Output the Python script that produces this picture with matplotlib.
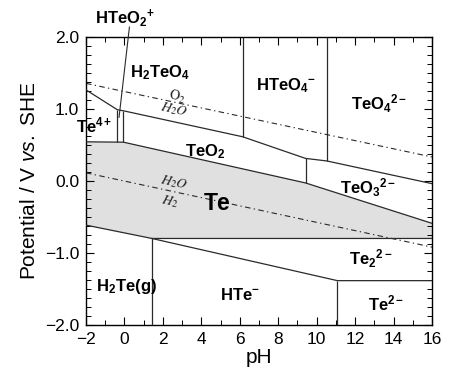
import matplotlib
matplotlib.use('Agg')
import matplotlib.pyplot as plt
from matplotlib.ticker import MultipleLocator, FixedLocator

plt.rcParams['font.family'] = ['Liberation Sans', 'DejaVu Sans']
plt.rcParams['mathtext.fontset'] = 'custom'
plt.rcParams['mathtext.rm'] = 'Liberation Sans'
plt.rcParams['mathtext.it'] = 'Liberation Sans:italic'
plt.rcParams['mathtext.bf'] = 'Liberation Sans:bold'

# boundaries (pH, E / V)
ox_ph = [-2, -0.37, -0.05, 6.15, 9.42, 10.52, 16]
ox_E = [1.26, 0.985, 0.97, 0.61, 0.31, 0.275, -0.04]

te_top_ph = [-2, -0.05, 9.42, 16]
te_top_E = [0.54, 0.535, -0.03, -0.59]
te_bot_ph = [-2, 1.43, 16]
te_bot_E = [-0.615, -0.80, -0.80]

hte_ph = [1.43, 11.08, 16]
hte_E = [-0.80, -1.385, -1.385]

# vertical boundaries: pH, lower E, upper E
v_ph = [-0.37, -0.05, 6.15, 10.52, 9.42, 1.43, 11.08]
v_lo = [0.54, 0.535, 0.61, 0.275, -0.03, -2.0, -2.0]
v_hi = [0.985, 0.97, 2.0, 2.0, 0.31, -0.80, -1.385]

# water stability lines
o2_ph = [-2, 16]
o2_E = [1.35, 0.33]
h2_ph = [-2, 16]
h2_E = [0.11, -0.92]

# species labels
labels = [r'$\mathbf{H_2TeO_4}$', r'$\mathbf{HTeO_4{}^{-}}$', r'$\mathbf{TeO_4{}^{2-}}$',
          r'$\mathbf{Te^{4+}}$', r'$\mathbf{TeO_2}$', r'$\mathbf{TeO_3{}^{2-}}$',
          r'$\mathbf{Te_2{}^{2-}}$', r'$\mathbf{HTe^{-}}$', r'$\mathbf{Te^{2-}}$',
          r'$\mathbf{H_2Te(g)}$']
lab_x = [1.86, 8.38, 13.23, -1.58, 4.2, 12.66, 12.81, 6.03, 13.6, 0.09]
lab_y = [1.50, 1.32, 1.07, 0.77, 0.40, -0.10, -1.08, -1.58, -1.70, -1.46]

water_labels = [r'$\mathrm{O_2}$', r'$\mathit{H_2O}$', r'$\mathit{H_2O}$', r'$\mathit{H_2}$']
water_x = [2.73, 2.55, 2.55, 2.38]
water_y = [1.16, 0.98, -0.02, -0.29]

lc = '#2a2a2a'

fig = plt.figure(figsize=(4.49, 3.76), dpi=100)
ax = fig.add_axes([0.1915, 0.1356, 0.7706, 0.7673])

# Te stability region
ax.fill(te_top_ph + te_bot_ph[::-1], te_top_E + te_bot_E[::-1],
        color='#e0e0e0', lw=0, zorder=1)

ax.plot(ox_ph, ox_E, color=lc, lw=0.9, zorder=3)
ax.plot(te_top_ph, te_top_E, color=lc, lw=0.9, zorder=3)
ax.plot(te_bot_ph, te_bot_E, color=lc, lw=0.9, zorder=3)
ax.plot(hte_ph, hte_E, color=lc, lw=0.9, zorder=3)
ax.vlines(v_ph, v_lo, v_hi, color=lc, lw=0.9, zorder=3)

ax.plot(o2_ph, o2_E, color=lc, lw=0.8, dashes=(5, 3, 1.2, 3), zorder=2)
ax.plot(h2_ph, h2_E, color=lc, lw=0.8, dashes=(5, 3, 1.2, 3), zorder=2)

# leader line for HTeO2+
ax.plot([0.26, -0.28], [2.13, 0.88], color=lc, lw=0.8, clip_on=False, zorder=3)
ax.text(0.03, 2.25, r'$\mathbf{HTeO_2{}^{+}}$', fontsize=12, ha='center', va='center')

for t, x, y in zip(labels, lab_x, lab_y):
    ax.text(x, y, t, fontsize=12, ha='center', va='center', zorder=4)
ax.text(4.82, -0.32, r'$\mathbf{Te}$', fontsize=16.5, ha='center', va='center', zorder=4)

for t, x, y in zip(water_labels, water_x, water_y):
    ax.text(x, y, t, fontsize=10, ha='center', va='center', rotation=-12,
            math_fontfamily='stix', color='#222222', zorder=4)

ax.set_xlim(-2, 16)
ax.set_ylim(-2, 2)
ax.xaxis.set_major_locator(MultipleLocator(2))
ax.xaxis.set_minor_locator(MultipleLocator(1))
ax.yaxis.set_major_locator(FixedLocator([-2, -1, 0, 1, 2]))
ax.yaxis.set_minor_locator(MultipleLocator(0.125))
ax.set_yticklabels(['\u22122.0', '\u22121.0', '0.0', '1.0', '2.0'])
ax.tick_params(which='both', direction='in', top=True, right=True, labelsize=12.5, pad=5)
ax.tick_params(which='major', length=6, width=0.8)
ax.tick_params(which='minor', length=3.5, width=0.7)
for s in ax.spines.values():
    s.set_linewidth(1.0)

ax.set_xlabel('pH', fontsize=15, labelpad=1)
ax.set_ylabel(r'Potential / V $\mathit{vs.}$ SHE', fontsize=15, labelpad=4)

plt.savefig('out.png', dpi=100)
plt.close()
